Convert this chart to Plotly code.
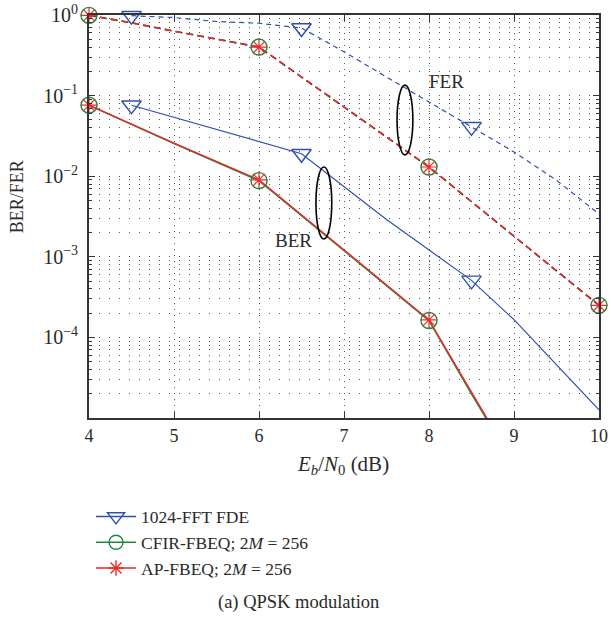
import plotly.graph_objects as go

# ---------------- data ----------------
fde_x_ber = [4.5, 5.5, 6.5, 7.5, 8.5, 9, 10]
fde_ber = [0.076, 0.038, 0.019, 0.0029, 5.1e-4, 1.66e-4, 1.26e-5]
fde_x_fer = [4.5, 5, 5.5, 6, 6.5, 7, 7.5, 8, 8.5, 9, 9.5, 10]
fde_fer = [0.98, 0.93, 0.83, 0.79, 0.69, 0.35, 0.17, 0.083, 0.041, 0.020, 0.0089, 0.0034]
fde_marker_x = [4.5, 6.5, 8.5]

fb_x_ber = [4, 5, 6, 7, 8, 8.5, 9]
cfir_ber = [0.076, 0.0255, 0.0088, 0.00121, 1.62e-4, 2.0e-5, 2.6e-6]
ap_ber = [0.076, 0.0257, 0.0090, 0.00123, 1.65e-4, 2.1e-5, 2.7e-6]
fb_x_fer = [4, 4.5, 5, 5.5, 6, 6.5, 7, 7.5, 8, 9, 10]
cfir_fer = [0.99, 0.80, 0.63, 0.50, 0.40, 0.17, 0.072, 0.030, 0.0130, 0.0018, 2.5e-4]
ap_fer = [0.99, 0.80, 0.63, 0.50, 0.40, 0.17, 0.072, 0.030, 0.0130, 0.0018, 2.5e-4]
fb_marker_x = [4, 6, 8, 10]

x_ticks = [4, 5, 6, 7, 8, 9, 10]
y_ticks = [1, 0.1, 0.01, 1e-3, 1e-4]
y_tick_text = ["10<sup>0</sup>", "10<sup>\u22121</sup>", "10<sup>\u22122</sup>",
               "10<sup>\u22123</sup>", "10<sup>\u22124</sup>"]
y_minor = [m * 10.0 ** e for e in range(-5, 0) for m in range(2, 10)]

names = ["1024-FFT FDE", "CFIR-FBEQ; 2<i>M</i> = 256", "AP-FBEQ; 2<i>M</i> = 256"]

BLUE = "#3050b0"
GREEN = "#1c8a3e"
RED = "#ee2a2a"
FONT = "Liberation Serif"
TXT = "#2a2a2a"


def subset(xs, ys, keep):
    px = [x for x in xs if x in keep]
    py = [y for x, y in zip(xs, ys) if x in keep]
    return px, py


fig = go.Figure()

# --- lines ---
fig.add_trace(go.Scatter(x=fde_x_fer, y=fde_fer, mode="lines",
                         line=dict(color=BLUE, width=1.2, dash="5px,4px"), showlegend=False))
fig.add_trace(go.Scatter(x=fde_x_ber, y=fde_ber, mode="lines",
                         line=dict(color=BLUE, width=1.2), showlegend=False))
fig.add_trace(go.Scatter(x=fb_x_fer, y=cfir_fer, mode="lines",
                         line=dict(color="#203020", width=1.6, dash="7px,4px"), showlegend=False))
fig.add_trace(go.Scatter(x=fb_x_ber, y=cfir_ber, mode="lines",
                         line=dict(color=GREEN, width=1.6), showlegend=False))
fig.add_trace(go.Scatter(x=fb_x_fer, y=ap_fer, mode="lines",
                         line=dict(color=RED, width=1.6, dash="6px,5px"), showlegend=False))
fig.add_trace(go.Scatter(x=fb_x_ber, y=ap_ber, mode="lines",
                         line=dict(color=RED, width=1.4), showlegend=False))

# --- markers ---
for xs, ys in [(fde_x_fer, fde_fer), (fde_x_ber, fde_ber)]:
    mx, my = subset(xs, ys, fde_marker_x)
    fig.add_trace(go.Scatter(x=mx, y=my, mode="markers", cliponaxis=False, showlegend=False,
                             marker=dict(symbol="triangle-down-open", size=17, color=BLUE,
                                         line=dict(color=BLUE, width=1.4))))
for xs, ys in [(fb_x_fer, cfir_fer), (fb_x_ber, cfir_ber)]:
    mx, my = subset(xs, ys, fb_marker_x)
    fig.add_trace(go.Scatter(x=mx, y=my, mode="markers", cliponaxis=False, showlegend=False,
                             marker=dict(symbol="circle-open", size=16, color=GREEN,
                                         line=dict(color=GREEN, width=1.4))))
for xs, ys in [(fb_x_fer, ap_fer), (fb_x_ber, ap_ber)]:
    mx, my = subset(xs, ys, fb_marker_x)
    fig.add_trace(go.Scatter(x=mx, y=my, mode="markers", cliponaxis=False, showlegend=False,
                             marker=dict(symbol="asterisk-open", size=14, color=RED,
                                         line=dict(color=RED, width=1.2))))

# --- legend entries ---
for name, col, sym, sz in [(names[0], BLUE, "triangle-down-open", 15),
                           (names[1], GREEN, "circle-open", 14),
                           (names[2], RED, "asterisk-open", 13)]:
    fig.add_trace(go.Scatter(x=[None], y=[None], mode="lines+markers", name=name,
                             line=dict(color=col, width=1.4),
                             marker=dict(symbol=sym, size=sz, color=col,
                                         line=dict(color=col, width=1.4))))

grid_dot = "1px,9px"
fig.update_xaxes(type="linear", range=[4, 10], tickvals=x_ticks, automargin=False,
                 ticks="inside", ticklen=6, tickcolor="#333",
                 showline=True, linecolor="#333", linewidth=1.8, mirror="ticks",
                 showgrid=True, gridcolor="#555", gridwidth=1, griddash="1px,5px",
                 zeroline=False,
                 tickfont=dict(family=FONT, size=18, color=TXT))
fig.update_yaxes(type="log", range=[-5, 0], tickvals=y_ticks, ticktext=y_tick_text,
                 automargin=False, ticklabelstandoff=5,
                 ticks="inside", ticklen=6, tickcolor="#333",
                 showline=True, linecolor="#333", linewidth=1.8, mirror="ticks",
                 showgrid=True, gridcolor="#555", gridwidth=1, griddash=grid_dot,
                 minor=dict(tickvals=y_minor, ticks="inside", ticklen=3, tickcolor="#333",
                            showgrid=True, gridcolor="#555", gridwidth=1, griddash=grid_dot),
                 zeroline=False,
                 tickfont=dict(family=FONT, size=20, color=TXT))

# ellipses (annotation marks)
fig.add_shape(type="circle", xref="x domain", yref="y domain",
              x0=0.604, x1=0.635, y0=0.653, y1=0.826, line=dict(color="black", width=1.6))
fig.add_shape(type="circle", xref="x domain", yref="y domain",
              x0=0.445, x1=0.476, y0=0.444, y1=0.623, line=dict(color="black", width=1.6))

ann = dict(showarrow=False, xanchor="center", yanchor="middle")
fig.add_annotation(text="FER", xref="x domain", yref="y domain", x=0.70, y=0.834,
                   font=dict(family=FONT, size=19, color=TXT), **ann)
fig.add_annotation(text="BER", xref="x domain", yref="y domain", x=0.40, y=0.44,
                   font=dict(family=FONT, size=19, color=TXT), **ann)

fig.add_annotation(text="<i>E</i><sub><i>b</i></sub>/<i>N</i><sub>0</sub> (dB)",
                   xref="paper", yref="paper", x=0.498, y=-0.117,
                   font=dict(family=FONT, size=21, color=TXT), **ann)
fig.add_annotation(text="BER/FER", xref="paper", yref="paper", x=-0.141, y=0.548,
                   textangle=-90, font=dict(family=FONT, size=18, color=TXT), **ann)
fig.add_annotation(text="(a) QPSK modulation", xref="paper", yref="paper", x=0.41, y=-0.457,
                   font=dict(family=FONT, size=18.5, color=TXT), **ann)

fig.update_layout(
    width=611, height=623,
    margin=dict(l=89, r=12, t=15, b=205),
    paper_bgcolor="white", plot_bgcolor="white",
    legend=dict(x=0.004, y=-0.2, xanchor="left", yanchor="top",
                font=dict(family=FONT, size=17.5, color=TXT),
                bgcolor="rgba(0,0,0,0)", itemwidth=40, tracegroupgap=0),
    font=dict(family=FONT),
)

# remove the default page margin so the 611x623 figure fills the window exactly
fig.write_html("out.html",
               config={"displayModeBar": False},
               post_script="document.body.style.margin='0';"
                           "document.documentElement.style.overflow='hidden';")
